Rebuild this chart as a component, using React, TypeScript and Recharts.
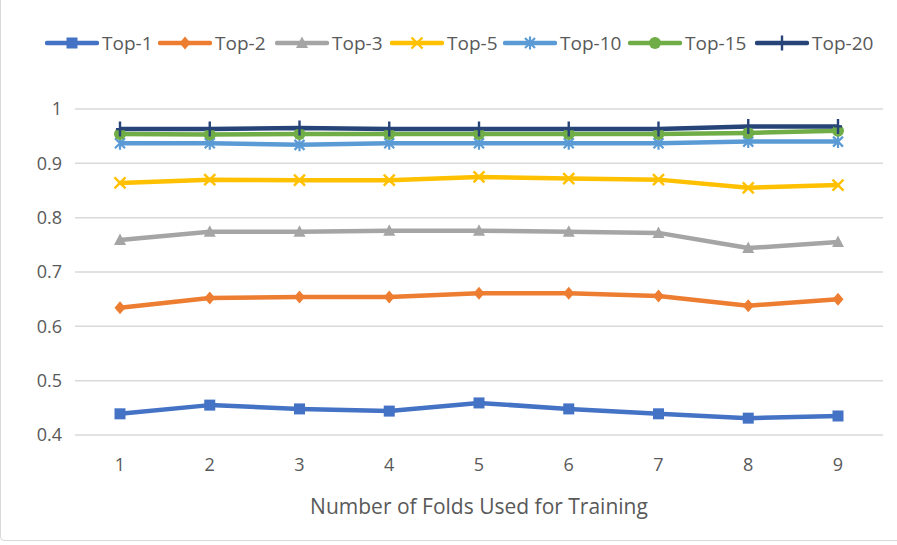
import React from "react";
import { LineChart, Line, XAxis, YAxis, CartesianGrid } from "recharts";

const folds = ["1", "2", "3", "4", "5", "6", "7", "8", "9"];
const top1 = [0.439, 0.455, 0.448, 0.444, 0.459, 0.448, 0.439, 0.431, 0.435];
const top2 = [0.634, 0.652, 0.654, 0.654, 0.661, 0.661, 0.656, 0.638, 0.65];
const top3 = [0.759, 0.774, 0.774, 0.776, 0.776, 0.774, 0.772, 0.744, 0.755];
const top5 = [0.864, 0.87, 0.869, 0.869, 0.875, 0.872, 0.87, 0.855, 0.86];
const top10 = [0.937, 0.937, 0.934, 0.937, 0.937, 0.937, 0.937, 0.94, 0.94];
const top15 = [0.954, 0.953, 0.954, 0.954, 0.954, 0.954, 0.954, 0.956, 0.96];
const top20 = [0.963, 0.963, 0.965, 0.963, 0.963, 0.963, 0.963, 0.968, 0.968];
const yTicks = [0.4, 0.5, 0.6, 0.7, 0.8, 0.9, 1];

type Shape = "square" | "diamond" | "triangle" | "x" | "star" | "circle" | "plus";

const series: { key: string; name: string; color: string; shape: Shape; values: number[] }[] = [
  { key: "t1", name: "Top-1", color: "#4472C4", shape: "square", values: top1 },
  { key: "t2", name: "Top-2", color: "#ED7D31", shape: "diamond", values: top2 },
  { key: "t3", name: "Top-3", color: "#A5A5A5", shape: "triangle", values: top3 },
  { key: "t5", name: "Top-5", color: "#FFC000", shape: "x", values: top5 },
  { key: "t10", name: "Top-10", color: "#5B9BD5", shape: "star", values: top10 },
  { key: "t15", name: "Top-15", color: "#70AD47", shape: "circle", values: top15 },
  { key: "t20", name: "Top-20", color: "#264478", shape: "plus", values: top20 },
];

// legend item left edges as seen in the original
const legendLeft = [45, 158, 275, 390, 503, 628, 755];

const data = folds.map((f, i) => {
  const row: Record<string, string | number> = { fold: f };
  series.forEach((s) => (row[s.key] = s.values[i]));
  return row;
});

const FONT = "'Open Sans', 'Liberation Sans', sans-serif";
const TEXT = "#595959";

function Marker({ cx, cy, shape, color }: { cx: number; cy: number; shape: Shape; color: string }) {
  const r = 5.5;
  switch (shape) {
    case "square":
      return <rect x={cx - r} y={cy - r} width={r * 2} height={r * 2} fill={color} />;
    case "diamond":
      return <path d={`M${cx},${cy - 6.5}L${cx + 5.5},${cy}L${cx},${cy + 6.5}L${cx - 5.5},${cy}Z`} fill={color} />;
    case "triangle":
      return <path d={`M${cx},${cy - 6.5}L${cx + 6},${cy + 5}L${cx - 6},${cy + 5}Z`} fill={color} />;
    case "x":
      return (
        <path d={`M${cx - 5.5},${cy - 5.5}L${cx + 5.5},${cy + 5.5}M${cx + 5.5},${cy - 5.5}L${cx - 5.5},${cy + 5.5}`} stroke={color} strokeWidth={2.4} />
      );
    case "star":
      return (
        <path
          d={`M${cx - 5},${cy - 5}L${cx + 5},${cy + 5}M${cx + 5},${cy - 5}L${cx - 5},${cy + 5}M${cx},${cy - 6.5}L${cx},${cy + 6.5}`}
          stroke={color}
          strokeWidth={2.2}
        />
      );
    case "circle":
      return <circle cx={cx} cy={cy} r={6} fill={color} />;
    case "plus":
      return <path d={`M${cx},${cy - 7.5}L${cx},${cy + 7.5}M${cx - 4},${cy}L${cx + 4},${cy}`} stroke={color} strokeWidth={2.4} />;
  }
}

function makeDot(shape: Shape, color: string) {
  return (props: { cx?: number; cy?: number; index?: number }) => (
    <g key={`${shape}-${props.index}`}>
      <Marker cx={props.cx ?? 0} cy={props.cy ?? 0} shape={shape} color={color} />
    </g>
  );
}

function LegendRow() {
  return (
    <div style={{ position: "absolute", top: 30, left: 0, fontFamily: FONT, fontSize: 19, color: TEXT, whiteSpace: "nowrap" }}>
      {series.map((s, i) => (
        <div key={s.key} style={{ position: "absolute", left: legendLeft[i], top: 0, display: "flex", alignItems: "center" }}>
          <svg width={54} height={24} style={{ marginRight: 3 }}>
            <line x1={2} y1={12} x2={52} y2={12} stroke={s.color} strokeWidth={4.5} strokeLinecap="round" />
            <Marker cx={27} cy={12} shape={s.shape} color={s.color} />
          </svg>
          <span>{s.name}</span>
        </div>
      ))}
    </div>
  );
}

export default function App() {
  return (
    <div style={{ position: "fixed", top: 0, left: 0, width: 897, height: 545, background: "#fff" }}>
      <div
        style={{
          position: "absolute",
          left: 0,
          top: -10,
          width: 920,
          height: 551,
          border: "1px solid #d9d9d9",
          borderRadius: 4,
          boxSizing: "border-box",
        }}
      />
      <LegendRow />
      <LineChart width={897} height={545} data={data} margin={{ top: 109, right: 14, left: 0, bottom: 0 }}>
        <CartesianGrid vertical={false} stroke="#d9d9d9" strokeWidth={1.5} />
        <XAxis
          dataKey="fold"
          axisLine={false}
          tickLine={false}
          height={110}
          padding={{ left: 45, right: 45 }}
          tick={{ fill: TEXT, fontSize: 18, fontFamily: FONT, dy: 15 }}
          label={{ value: "Number of Folds Used for Training", position: "insideTop", offset: 64, fill: TEXT, fontSize: 21, fontFamily: FONT }}
        />
        <YAxis
          domain={[0.4, 1]}
          ticks={yTicks}
          axisLine={false}
          tickLine={false}
          width={75}
          interval={0}
          tick={{ fill: TEXT, fontSize: 18, fontFamily: FONT, dx: -5 }}
        />
        {series.map((s) => (
          <Line
            key={s.key}
            dataKey={s.key}
            name={s.name}
            stroke={s.color}
            strokeWidth={4.5}
            strokeLinejoin="round"
            dot={makeDot(s.shape, s.color)}
            activeDot={false}
            isAnimationActive={false}
          />
        ))}
      </LineChart>
    </div>
  );
}
